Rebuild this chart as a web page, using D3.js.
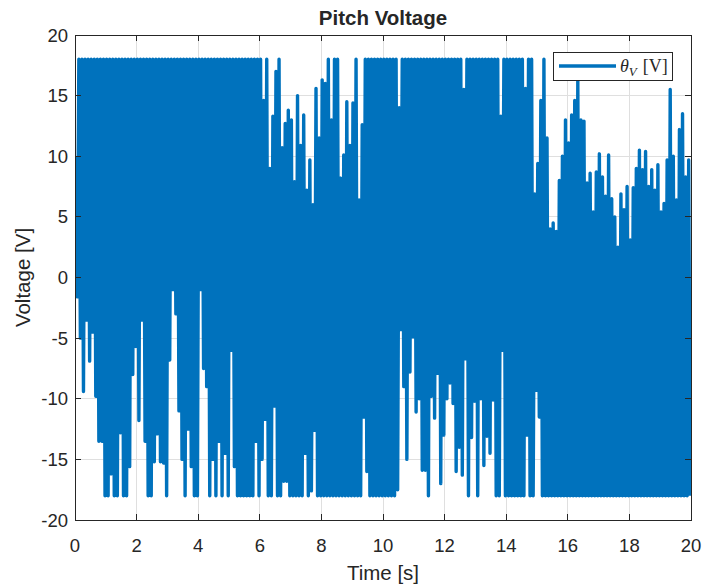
<!DOCTYPE html>
<html>
<head>
<meta charset="utf-8">
<script src="https://cdn.jsdelivr.net/npm/d3@7"></script>
<style>
  body { margin: 0; background: #fff; }
  text { font-family: "Liberation Sans", Arial, sans-serif; fill: #262626; }
</style>
</head>
<body>
<div id="chart"></div>
<script>
// ticks
const xTicks = [0, 2, 4, 6, 8, 10, 12, 14, 16, 18, 20];
const yTicks = [-20, -15, -10, -5, 0, 5, 10, 15, 20];

// signal: max / min of the voltage in every 0.1 s bin
const binWidth = 0.1;
const upperEnv = [
  10, 18, 18, 18, 18, 18, 18, 18, 18, 18,
  18, 18, 18, 18, 18, 18, 18, 18, 18, 18,
  18, 18, 18, 18, 18, 18, 18, 18, 18, 18,
  18, 18, 18, 18, 18, 18, 18, 18, 18, 18,
  18, 18, 18, 18, 18, 18, 18, 18, 18, 18,
  18, 18, 18, 18, 18, 18, 18, 18, 18, 18,
  18, 14.6, 18, 9, 13.3, 17, 18, 10.7, 12.7, 13.8,
  13, 7.9, 15, 10.9, 13.4, 7.2, 9.7, 6, 15.6, 11.5,
  16.3, 16, 18, 13, 18, 18, 8.2, 10.1, 14.5, 10.9,
  14.4, 18, 6.4, 12.6, 18, 18, 18, 18, 18, 18,
  18, 18, 18, 18, 18, 14, 18, 18, 18, 18,
  18, 18, 18, 18, 18, 18, 18, 18, 18, 18,
  18, 18, 18, 18, 18, 18, 15.5, 18, 18, 18,
  18, 18, 18, 18, 18, 18, 18, 18, 13.3, 18,
  18, 18, 18, 18, 18, 18, 15.6, 18, 18, 6.9,
  9.4, 14.6, 18, 11.5, 4, 4.5, 3.8, 8, 10, 13,
  11.1, 13.4, 14.6, 16.3, 13, 12.9, 7.8, 8.6, 5.4, 8.7,
  10.2, 8.3, 6.7, 10.1, 6.5, 5, 2.5, 6.9, 5.6, 7.5,
  3.1, 7.4, 9, 10.5, 8.9, 10.4, 7.5, 8.9, 7.2, 9.3,
  5.4, 6.1, 9.7, 15.5, 10, 6.4, 12.2, 13.5, 8.3, 9.7
];
const lowerEnv = [
  -1.6, -5, -9.4, -3.5, -6.9, -4.5, -9.8, -13.5, -13.5, -18,
  -18, -16.2, -18, -18, -12.8, -18, -18, -15.6, -8, -5.7,
  -11.8, -3.5, -13.5, -18, -18, -15.2, -12.9, -15.2, -15.3, -18,
  -6.8, -1, -3, -11, -15, -18, -12.5, -15.6, -18, -18,
  -1, -7.5, -9, -18, -15, -18, -13.5, -18, -14.5, -18,
  -6, -15.6, -18, -18, -18, -18, -18, -18, -13.5, -18,
  -15, -11.7, -18, -18, -10.6, -18, -18, -16.8, -16.8, -18,
  -18, -18, -18, -18, -14.5, -18, -17.6, -12.6, -18, -18,
  -18, -18, -18, -18, -18, -18, -18, -18, -18, -18,
  -18, -18, -18, -11.5, -16, -18, -18, -18, -18, -18,
  -18, -18, -18, -18, -17.5, -4.3, -9, -15, -7.8, -4.9,
  -11.1, -10, -15.9, -15.9, -18, -9.8, -11.6, -7.9, -17, -13,
  -10, -8.7, -10.4, -16, -14, -16.3, -6.7, -18, -13.2, -10.2,
  -18, -10, -15.5, -13.1, -14.5, -10.1, -18, -18, -6, -18,
  -18, -18, -18, -18, -18, -18, -13, -18, -18, -9.3,
  -11.5, -18, -18, -18, -18, -18, -18, -18, -18, -18,
  -18, -18, -18, -18, -18, -18, -18, -18, -18, -18,
  -18, -18, -18, -18, -18, -18, -18, -18, -18, -18,
  -18, -18, -18, -18, -18, -18, -18, -18, -18, -18,
  -18, -18, -18, -18, -18, -18, -18, -18, -18, -18
];

const width = 703, height = 587;
const plot = { left: 75, right: 691, top: 35, bottom: 520 };
const lineColor = "#0072BD";
const axisColor = "#262626";
const lineWidth = 3.4;

const svg = d3.select("#chart").append("svg")
  .attr("width", width)
  .attr("height", height);

const x = d3.scaleLinear().domain([0, 20]).range([plot.left, plot.right]);
const y = d3.scaleLinear().domain([-20, 20]).range([plot.bottom, plot.top]);

// grid
const grid = svg.append("g").attr("stroke", "#dfdfdf").attr("shape-rendering", "crispEdges");
grid.selectAll("line.gx").data(xTicks.slice(1, -1)).join("line")
  .attr("x1", d => x(d)).attr("x2", d => x(d))
  .attr("y1", plot.top).attr("y2", plot.bottom);
grid.selectAll("line.gy").data(yTicks.slice(1, -1)).join("line")
  .attr("x1", plot.left).attr("x2", plot.right)
  .attr("y1", d => y(d)).attr("y2", d => y(d));

// zig-zag through max and min of each bin
const points = [];
upperEnv.forEach((u, i) => {
  points.push({ t: i * binWidth + binWidth * 0.25, v: u });
  points.push({ t: i * binWidth + binWidth * 0.75, v: lowerEnv[i] });
});

svg.append("clipPath").attr("id", "clip")
  .append("rect")
  .attr("x", plot.left).attr("y", plot.top)
  .attr("width", plot.right - plot.left).attr("height", plot.bottom - plot.top);

svg.append("path")
  .datum(points)
  .attr("clip-path", "url(#clip)")
  .attr("fill", "none")
  .attr("stroke", lineColor)
  .attr("stroke-width", lineWidth)
  .attr("stroke-linejoin", "round")
  .attr("d", d3.line().x(d => x(d.t)).y(d => y(d.v)));

// axes (box on, ticks inside on all sides)
const tickLen = 6;
const axes = svg.append("g").attr("stroke", axisColor).attr("shape-rendering", "crispEdges");
axes.append("rect")
  .attr("x", plot.left).attr("y", plot.top)
  .attr("width", plot.right - plot.left).attr("height", plot.bottom - plot.top)
  .attr("fill", "none");
axes.selectAll("line.xb").data(xTicks).join("line")
  .attr("x1", d => x(d)).attr("x2", d => x(d))
  .attr("y1", plot.bottom).attr("y2", plot.bottom - tickLen);
axes.selectAll("line.xt").data(xTicks).join("line").attr("class", "xt")
  .attr("x1", d => x(d)).attr("x2", d => x(d))
  .attr("y1", plot.top).attr("y2", plot.top + tickLen);
axes.selectAll("line.yl").data(yTicks).join("line").attr("class", "yl")
  .attr("x1", plot.left).attr("x2", plot.left + tickLen)
  .attr("y1", d => y(d)).attr("y2", d => y(d));
axes.selectAll("line.yr").data(yTicks).join("line").attr("class", "yr")
  .attr("x1", plot.right).attr("x2", plot.right - tickLen)
  .attr("y1", d => y(d)).attr("y2", d => y(d));

// tick labels
svg.append("g").selectAll("text").data(xTicks).join("text")
  .attr("x", d => x(d)).attr("y", plot.bottom + 32)
  .attr("text-anchor", "middle")
  .attr("font-size", 18.5)
  .text(d => d);
svg.append("g").selectAll("text").data(yTicks).join("text")
  .attr("x", plot.left - 7).attr("y", d => y(d) + 6.5)
  .attr("text-anchor", "end")
  .attr("font-size", 18.5)
  .text(d => d);

// labels and title
svg.append("text")
  .attr("x", (plot.left + plot.right) / 2).attr("y", 580)
  .attr("text-anchor", "middle").attr("font-size", 20.5)
  .text("Time [s]");
svg.append("text")
  .attr("transform", `translate(30,${(plot.top + plot.bottom) / 2}) rotate(-90)`)
  .attr("text-anchor", "middle").attr("font-size", 20.5)
  .text("Voltage [V]");
svg.append("text")
  .attr("x", (plot.left + plot.right) / 2).attr("y", 25)
  .attr("text-anchor", "middle").attr("font-size", 20.5).attr("font-weight", "bold")
  .attr("fill", "#000")
  .text("Pitch Voltage");

// legend
const legend = svg.append("g");
legend.append("rect")
  .attr("x", 553.5).attr("y", 52.5).attr("width", 119).attr("height", 27.5)
  .attr("fill", "#fff").attr("stroke", axisColor).attr("shape-rendering", "crispEdges");
legend.append("line")
  .attr("x1", 559).attr("x2", 616).attr("y1", 66).attr("y2", 66)
  .attr("stroke", lineColor).attr("stroke-width", lineWidth);
const lt = legend.append("text")
  .attr("x", 620).attr("y", 72)
  .style("font-family", "'Liberation Serif', 'DejaVu Serif', serif")
  .attr("font-size", 18).attr("fill", "#000");
lt.append("tspan").attr("font-style", "italic").text("θ");
lt.append("tspan").attr("font-style", "italic").attr("font-size", 13).attr("dy", 4).text("V");
lt.append("tspan").attr("dy", -4).attr("dx", 6).text("[V]");
</script>
</body>
</html>
